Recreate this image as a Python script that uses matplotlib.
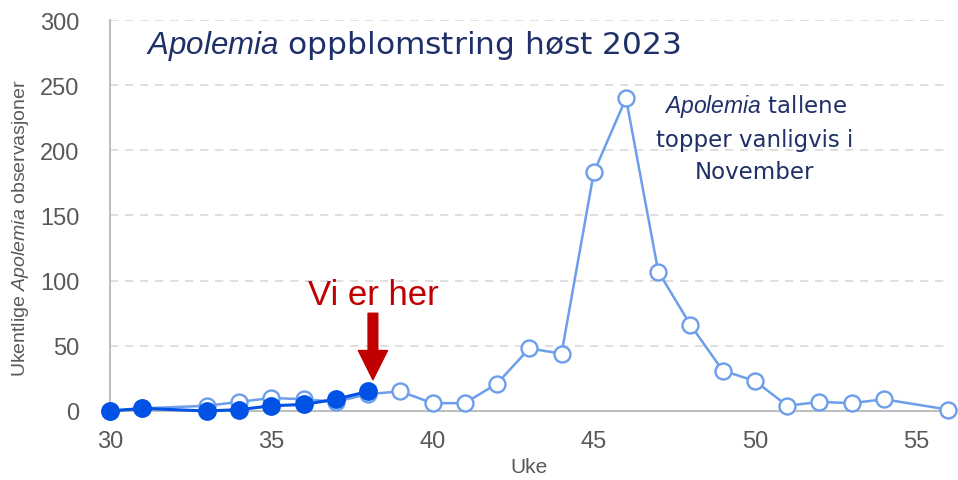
import matplotlib
matplotlib.use('Agg')
import matplotlib.pyplot as plt

# Data
weeks_typical = [30, 31, 33, 34, 35, 36, 37, 38, 39, 40, 41, 42, 43, 44, 45, 46, 47, 48,
                 49, 50, 51, 52, 53, 54, 56]
obs_typical = [0, 2, 4, 7, 10, 9, 7, 13, 15, 6, 6, 21, 48, 44, 183, 240, 107, 66,
               31, 23, 4, 7, 6, 9, 1]
weeks_2023 = [30, 31, 33, 34, 35, 36, 37, 38]
obs_2023 = [0, 2, 0, 1, 4, 5, 9, 15]
y_ticks = [0, 50, 100, 150, 200, 250, 300]
x_ticks = [30, 35, 40, 45, 50, 55]

plt.rcParams['font.family'] = ['Liberation Sans', 'DejaVu Sans']
plt.rcParams['mathtext.fontset'] = 'custom'
plt.rcParams['mathtext.it'] = 'Liberation Sans:italic'
plt.rcParams['mathtext.rm'] = 'Liberation Sans'

light_blue = '#6D9EEB'
dark_blue = '#0052E4'
gray = '#595959'
navy = '#1F3068'

fig = plt.figure(figsize=(9.58, 4.81), dpi=100)
ax = fig.add_axes([0.115, 0.1435, 0.875, 0.8128])

ax.plot(weeks_typical, obs_typical, color=light_blue, lw=1.8, marker='o', ms=11.5,
        mfc='white', mec=light_blue, mew=1.7, clip_on=False, zorder=3)
ax.plot(weeks_2023, obs_2023, color=dark_blue, lw=2.2, marker='o', ms=12.5,
        mfc=dark_blue, mec=dark_blue, clip_on=False, zorder=4)

ax.set_xlim(30, 56)
ax.set_ylim(0, 300)
ax.set_xticks(x_ticks)
ax.set_yticks(y_ticks)
ax.tick_params(length=0, labelsize=17, labelcolor=gray)
ax.tick_params(axis='y', pad=22)
ax.tick_params(axis='x', pad=14)
ax.yaxis.grid(True, color='#D9D9D9', ls=(0, (5, 4)), lw=1.2)
ax.set_axisbelow(True)
for s in ['top', 'right']:
    ax.spines[s].set_visible(False)
for s in ['left', 'bottom']:
    ax.spines[s].set_color('#BFBFBF')
    ax.spines[s].set_linewidth(1.5)

ax.set_xlabel('Uke', fontsize=15, color=gray, labelpad=3)
ax.set_ylabel(r'Ukentlige $\mathit{Apolemia}$ observasjoner', fontsize=14, color=gray)
ax.yaxis.set_label_coords(-0.095, 0.47)

ax.text(31.1, 281, r'$\mathit{Apolemia}$ oppblomstring høst 2023', fontsize=22.5,
        color=navy, va='center', ha='left', family='DejaVu Sans')
ax.text(50.0, 210, '$\\mathit{Apolemia}$ tallene\ntopper vanligvis i\nNovember',
        fontsize=16.5, color=navy, ha='center', va='center', linespacing=1.5,
        family='DejaVu Sans')

ax.text(38.15, 82, 'Vi er her', fontsize=25, color='#C00000', ha='center', va='baseline')
ax.annotate('', xy=(38.15, 24), xytext=(38.15, 75),
            arrowprops=dict(width=7, headwidth=21, headlength=21, color='#C00000',
                            shrink=0))

fig.savefig('out.png', dpi=100)
